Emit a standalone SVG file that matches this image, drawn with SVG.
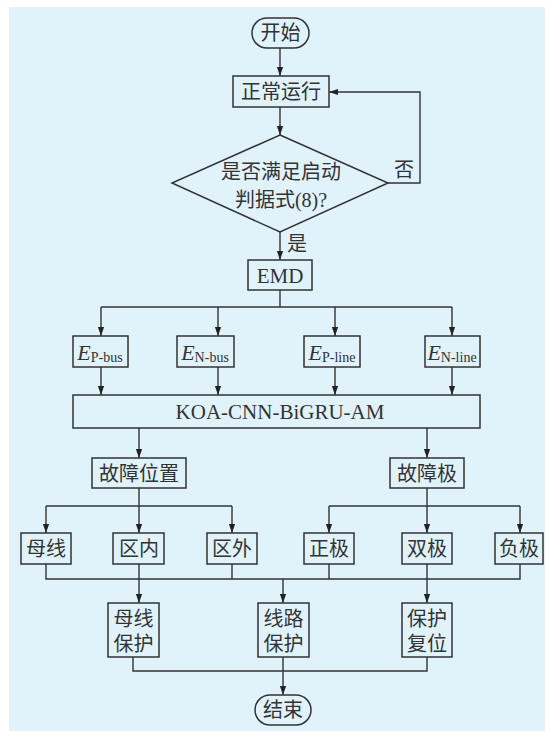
<svg xmlns="http://www.w3.org/2000/svg" width="545" height="731" viewBox="0 0 545 731">
<style>
.bx{fill:none;stroke:#333;stroke-width:1.5}
.ln{fill:none;stroke:#333;stroke-width:1.4}
.ar{fill:none;stroke:#333;stroke-width:1.4;marker-end:url(#ah)}
.zh{font-family:"Liberation Serif","Noto Sans CJK SC",serif;font-size:20px;fill:#333;text-anchor:middle;dominant-baseline:central}
.en{font-family:"Liberation Serif",serif;font-size:21px;fill:#333;text-anchor:middle;dominant-baseline:central}
</style>
<defs>
<marker id="ah" markerUnits="userSpaceOnUse" markerWidth="9" markerHeight="14" refX="13" refY="4.5" orient="auto" viewBox="0 0 13 9">
<path d="M0,0 L13,4.5 L0,9 z" fill="#222"/>
</marker>
</defs>
<rect x="9" y="7" width="536" height="724" fill="#e0f2fa"/>
<g id="connectors">
<line class="ar" x1="280" y1="48" x2="280" y2="76"/>
<line class="ar" x1="280" y1="107" x2="280" y2="135"/>
<polyline class="ar" points="388,183 420,183 420,92 329,92"/>
<line class="ar" x1="280" y1="232" x2="280" y2="260"/>
<polyline class="ln" points="280,290 280,307"/>
<polyline class="ln" points="101,307 452,307"/>
<line class="ar" x1="101" y1="307" x2="101" y2="336"/>
<line class="ar" x1="218" y1="307" x2="218" y2="336"/>
<line class="ar" x1="335" y1="307" x2="335" y2="336"/>
<line class="ar" x1="452" y1="307" x2="452" y2="336"/>
<line class="ar" x1="101" y1="367" x2="101" y2="395"/>
<line class="ar" x1="218" y1="367" x2="218" y2="395"/>
<line class="ar" x1="335" y1="367" x2="335" y2="395"/>
<line class="ar" x1="452" y1="367" x2="452" y2="395"/>
<line class="ar" x1="139" y1="428" x2="139" y2="458"/>
<line class="ar" x1="427" y1="428" x2="427" y2="458"/>
<polyline class="ln" points="139,488 139,506"/>
<polyline class="ln" points="46,506 232,506"/>
<line class="ar" x1="46" y1="506" x2="46" y2="533"/>
<line class="ar" x1="139" y1="506" x2="139" y2="533"/>
<line class="ar" x1="232" y1="506" x2="232" y2="533"/>
<polyline class="ln" points="427,488 427,506"/>
<polyline class="ln" points="329,506 520,506"/>
<line class="ar" x1="329" y1="506" x2="329" y2="533"/>
<line class="ar" x1="427" y1="506" x2="427" y2="533"/>
<line class="ar" x1="520" y1="506" x2="520" y2="533"/>
<polyline class="ln" points="46,564 46,579 520,579 520,564"/>
<line class="ln" x1="232" y1="564" x2="232" y2="579"/>
<line class="ln" x1="329" y1="564" x2="329" y2="579"/>
<line class="ar" x1="139" y1="564" x2="139" y2="603"/>
<line class="ar" x1="283" y1="579" x2="283" y2="603"/>
<line class="ar" x1="427" y1="564" x2="427" y2="603"/>
<polyline class="ln" points="133,657 133,671 427,671 427,657"/>
<line class="ar" x1="283" y1="657" x2="283" y2="695"/>
</g>
<g id="start"><rect class="bx" x="252" y="18" width="57" height="30" rx="15"/><text class="zh" x="280.5" y="33">开始</text></g>
<g id="normal"><rect class="bx" x="233" y="76" width="96" height="31"/><text class="zh" x="281" y="92">正常运行</text></g>
<g id="decision"><polygon class="bx" points="280,135 388,183 280,232 172,183"/>
<text class="zh" x="281" y="172">是否满足启动</text>
<text class="zh" x="281" y="200">判据式<tspan font-family="Liberation Serif">(8)?</tspan></text>
<text class="zh" x="404" y="170">否</text>
<text class="zh" x="297" y="244">是</text></g>
<g id="emd"><rect class="bx" x="248" y="260" width="64" height="30"/><text class="en" x="280" y="276">EMD</text></g>
<g id="ep-bus"><rect class="bx" x="73" y="336" width="55" height="31"/><text class="en" x="100" y="352"><tspan font-style="italic" font-size="22">E</tspan><tspan font-size="14" dy="5">P-bus</tspan></text></g>
<g id="en-bus"><rect class="bx" x="177" y="336" width="57" height="31"/><text class="en" x="205" y="352"><tspan font-style="italic" font-size="22">E</tspan><tspan font-size="14" dy="5">N-bus</tspan></text></g>
<g id="ep-line"><rect class="bx" x="304" y="336" width="56" height="31"/><text class="en" x="332" y="352"><tspan font-style="italic" font-size="22">E</tspan><tspan font-size="14" dy="5">P-line</tspan></text></g>
<g id="en-line"><rect class="bx" x="425" y="336" width="55" height="31"/><text class="en" x="452" y="352"><tspan font-style="italic" font-size="22">E</tspan><tspan font-size="14" dy="5">N-line</tspan></text></g>
<g id="koa"><rect class="bx" x="73" y="395" width="407" height="33"/><text class="en" x="280" y="412">KOA-CNN-BiGRU-AM</text></g>
<g id="fault-loc"><rect class="bx" x="92" y="458" width="94" height="30"/><text class="zh" x="139" y="474">故障位置</text></g>
<g id="fault-pole"><rect class="bx" x="390" y="458" width="74" height="30"/><text class="zh" x="427" y="474">故障极</text></g>
<g id="bus"><rect class="bx" x="21" y="533" width="50" height="31"/><text class="zh" x="46" y="549">母线</text></g>
<g id="inner"><rect class="bx" x="113" y="533" width="51" height="31"/><text class="zh" x="139" y="549">区内</text></g>
<g id="outer"><rect class="bx" x="207" y="533" width="50" height="31"/><text class="zh" x="232" y="549">区外</text></g>
<g id="pos"><rect class="bx" x="304" y="533" width="50" height="31"/><text class="zh" x="329" y="549">正极</text></g>
<g id="bipole"><rect class="bx" x="402" y="533" width="50" height="31"/><text class="zh" x="427" y="549">双极</text></g>
<g id="neg"><rect class="bx" x="495" y="533" width="48" height="31"/><text class="zh" x="519" y="549">负极</text></g>
<g id="bus-prot"><rect class="bx" x="108" y="603" width="51" height="54"/><text class="zh" x="133.5" y="619">母线</text><text class="zh" x="133.5" y="644">保护</text></g>
<g id="line-prot"><rect class="bx" x="258" y="603" width="51" height="54"/><text class="zh" x="283.5" y="619">线路</text><text class="zh" x="283.5" y="644">保护</text></g>
<g id="reset"><rect class="bx" x="402" y="603" width="50" height="54"/><text class="zh" x="427" y="619">保护</text><text class="zh" x="427" y="644">复位</text></g>
<g id="end"><rect class="bx" x="255" y="695" width="56" height="30" rx="15"/><text class="zh" x="283" y="710">结束</text></g>
</svg>
